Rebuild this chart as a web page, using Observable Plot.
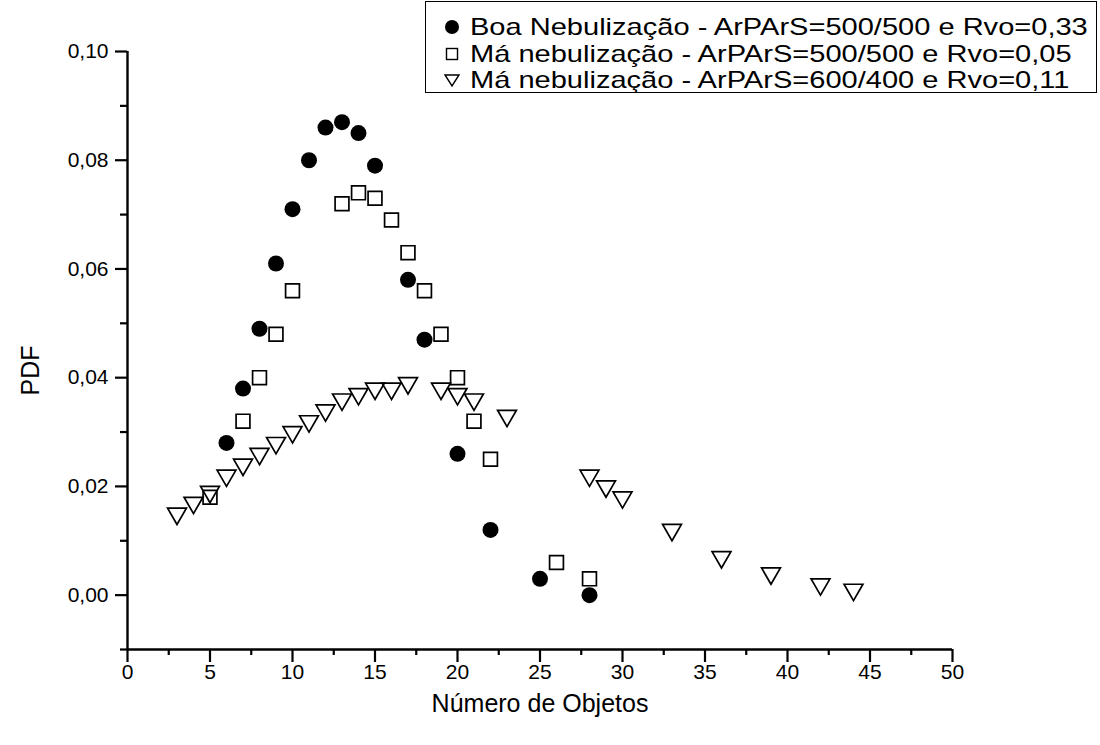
<!DOCTYPE html>
<html><head><meta charset="utf-8">
<script src="https://cdn.jsdelivr.net/npm/d3@7"></script>
<script src="https://cdn.jsdelivr.net/npm/@observablehq/plot@0.6"></script>
<style>
body{margin:0;background:#fff;font-family:"Liberation Sans",Arial,sans-serif;}
#wrap{position:relative;width:1100px;height:745px;overflow:hidden;}
#legend{position:absolute;left:425px;top:1px;width:672px;height:92px;border:1.6px solid #000;box-sizing:border-box;background:#fff;padding-top:12px;}
.row{display:flex;align-items:center;height:26.5px;font-size:24px;color:#000;white-space:nowrap;}
.row svg{margin-left:18px;margin-right:10px;flex:none;}
.row span{display:inline-block;transform-origin:left center;transform:scaleX(1.21);}
</style></head><body><div id="wrap"><div id="chart"></div><div id="legend"></div></div>
<script>
// Série 1: Boa Nebulização - ArPArS=500/500 e Rvo=0,33
const boaX = [6, 7, 8, 9, 10, 11, 12, 13, 14, 15, 17, 18, 20, 22, 25, 28];
const boaY = [0.028, 0.038, 0.049, 0.061, 0.071, 0.080, 0.086, 0.087, 0.085, 0.079, 0.058, 0.047, 0.026, 0.012, 0.003, 0.000];
// Série 2: Má nebulização - ArPArS=500/500 e Rvo=0,05
const ma1X = [5, 7, 8, 9, 10, 13, 14, 15, 16, 17, 18, 19, 20, 21, 22, 26, 28];
const ma1Y = [0.018, 0.032, 0.040, 0.048, 0.056, 0.072, 0.074, 0.073, 0.069, 0.063, 0.056, 0.048, 0.040, 0.032, 0.025, 0.006, 0.003];
// Série 3: Má nebulização - ArPArS=600/400 e Rvo=0,11
const ma2X = [3, 4, 5, 6, 7, 8, 9, 10, 11, 12, 13, 14, 15, 16, 17, 19, 20, 21, 23, 28, 29, 30, 33, 36, 39, 42, 44];
const ma2Y = [0.015, 0.017, 0.019, 0.022, 0.024, 0.026, 0.028, 0.030, 0.032, 0.034, 0.036, 0.037, 0.038, 0.038, 0.039, 0.038, 0.037, 0.036, 0.033, 0.022, 0.020, 0.018, 0.012, 0.007, 0.004, 0.002, 0.001];

const seriesNames = [
  "Boa Nebulização - ArPArS=500/500 e Rvo=0,33",
  "Má nebulização - ArPArS=500/500 e Rvo=0,05",
  "Má nebulização - ArPArS=600/400 e Rvo=0,11"
];
const xTicks = [0, 5, 10, 15, 20, 25, 30, 35, 40, 45, 50];
const xMinorTicks = [2.5, 7.5, 12.5, 17.5, 22.5, 27.5, 32.5, 37.5, 42.5, 47.5];
const yTicks = [0, 0.02, 0.04, 0.06, 0.08, 0.10];
const yMinorTicks = [-0.01, 0.01, 0.03, 0.05, 0.07, 0.09];
const xLabel = "Número de Objetos";
const yLabel = "PDF";

const boa = boaX.map((x, i) => ({x, y: boaY[i]}));
const ma1 = ma1X.map((x, i) => ({x, y: ma1Y[i]}));
const ma2 = ma2X.map((x, i) => ({x, y: ma2Y[i]}));
const fmt = d => d3.format(".2f")(d).replace(".", ",");

const chart = Plot.plot({
  width: 1100,
  height: 745,
  marginLeft: 127,
  marginRight: 148,
  marginTop: 51,
  marginBottom: 96,
  style: {fontFamily: '"Liberation Sans", Arial, sans-serif', background: "#fff", color: "#000"},
  x: {domain: [0, 50]},
  y: {domain: [-0.01, 0.10]},
  marks: [
    Plot.axisX(xTicks, {tickSize: 13, tickPadding: 2, tickFormat: d => String(d), fontSize: 21, strokeWidth: 2.2, label: null}),
    Plot.axisX(xMinorTicks, {tickSize: 6, tickFormat: () => "", strokeWidth: 2.2, label: null}),
    Plot.axisY(yTicks, {tickSize: 12, tickPadding: 7, tickFormat: fmt, fontSize: 21, strokeWidth: 2.2, label: null}),
    Plot.axisY(yMinorTicks, {tickSize: 7, tickFormat: () => "", strokeWidth: 2.2, label: null}),
    Plot.ruleX([0], {y1: -0.01, y2: 0.10, strokeWidth: 2.4}),
    Plot.ruleY([-0.01], {x1: 0, x2: 50, strokeWidth: 2.4}),
    Plot.text([xLabel], {frameAnchor: "bottom", dy: 62, fontSize: 25}),
    Plot.text([yLabel], {frameAnchor: "left", dx: -97, dy: 45, rotate: -90, fontSize: 25}),
    Plot.dot(ma2, {x: "x", y: "y", symbol: "triangle", rotate: 180, r: 7, stroke: "#000", strokeWidth: 1.7, fill: "none"}),
    Plot.dot(ma1, {x: "x", y: "y", symbol: "square", r: 7.8, stroke: "#000", strokeWidth: 1.7, fill: "none"}),
    Plot.dot(boa, {x: "x", y: "y", r: 8, fill: "#000", stroke: "none"})
  ]
});
document.getElementById("chart").appendChild(chart);

// Legend
const legendSymbols = [
  '<svg width="16" height="16" viewBox="-8 -8 16 16"><circle r="7" fill="#000"/></svg>',
  '<svg width="16" height="16" viewBox="-8 -8 16 16"><rect x="-5.5" y="-5.5" width="11" height="11" fill="none" stroke="#000" stroke-width="1.4"/></svg>',
  '<svg width="16" height="16" viewBox="-8 -8 16 16"><path d="M-7,-5 L7,-5 L0,6 Z" fill="none" stroke="#000" stroke-width="1.4"/></svg>'
];
const legend = document.getElementById("legend");
seriesNames.forEach((name, i) => {
  const row = document.createElement("div");
  row.className = "row";
  row.innerHTML = legendSymbols[i] + '<span>' + name + '</span>';
  legend.appendChild(row);
});
</script>
</body></html>
